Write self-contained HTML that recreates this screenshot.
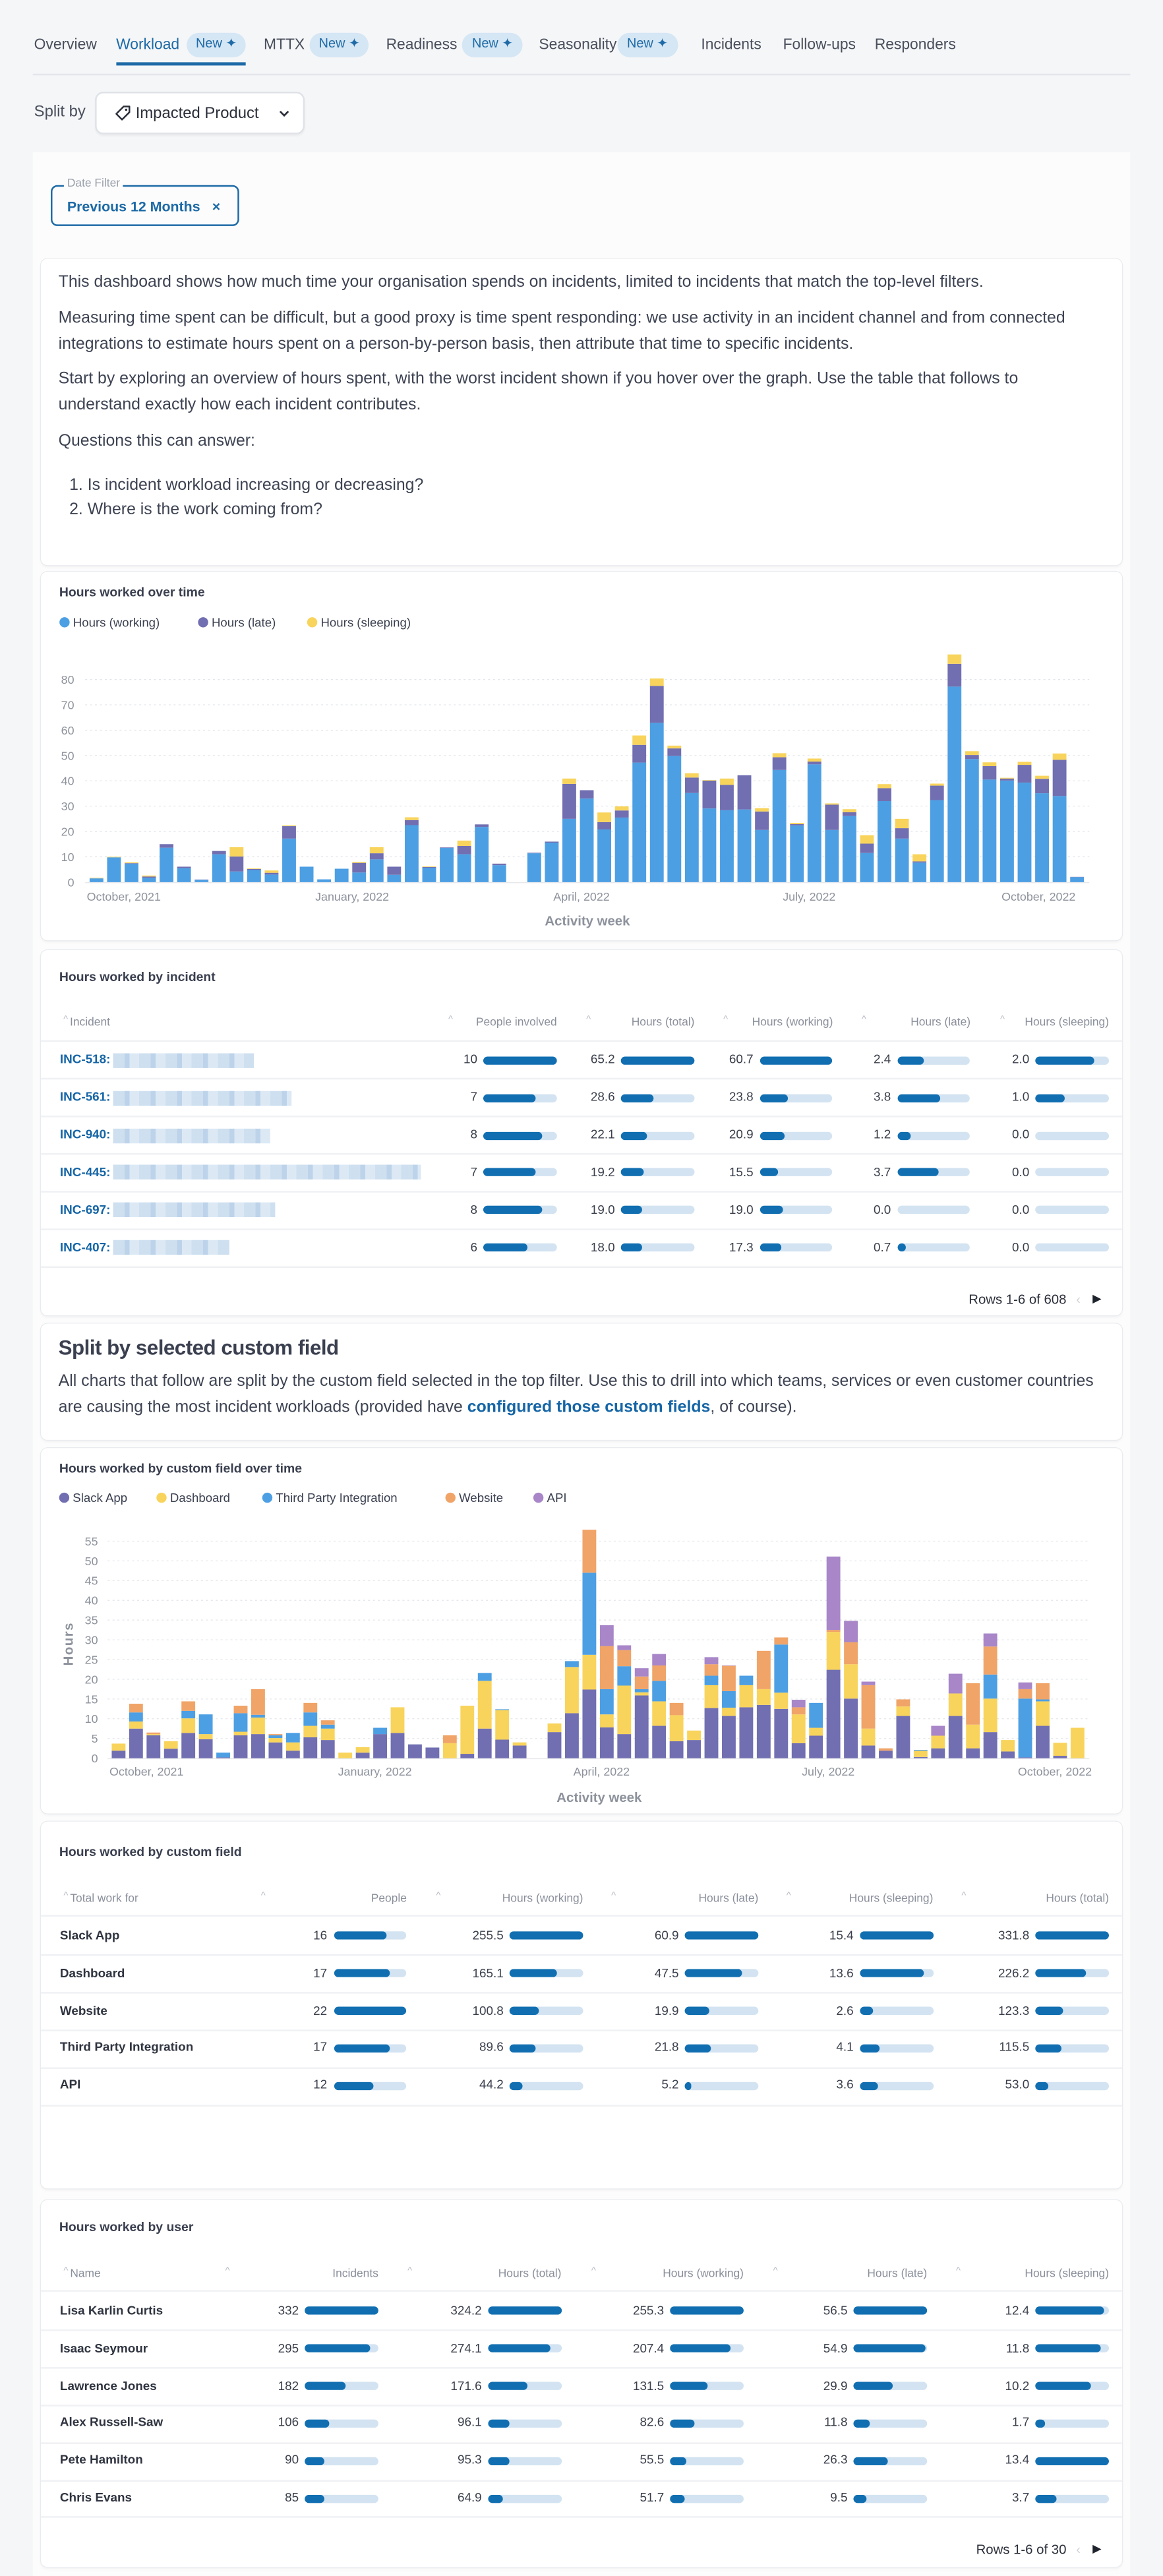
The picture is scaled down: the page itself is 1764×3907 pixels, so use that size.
<!DOCTYPE html>
<html><head><meta charset="utf-8">
<style>
html,body{margin:0;padding:0}
body{width:1764px;height:3897px;overflow:hidden;background:#f5f6f8;font-family:"Liberation Sans",sans-serif;color:#3b4050}
#root{position:absolute;left:0;top:0;width:710px;height:1569px;transform:scale(2.484507);transform-origin:0 0}
.a{position:absolute;white-space:nowrap;line-height:12px}
.card{position:absolute;left:25px;width:660px;background:#fff;border-radius:4px;box-shadow:0 0 0 0.5px #e9ecef,0 1px 2px rgba(0,0,0,0.05)}
.tab{font-size:9.2px;color:#4a4f5c;top:20.8px}
.badge{position:absolute;top:19.9px;height:14.7px;border-radius:7.5px;background:#d5e6f4;color:#1d6aa6;font-size:8px;line-height:14.7px;text-align:center}
.para{font-size:10px;color:#3d4352}
.ctitle{font-size:7.8px;font-weight:bold;color:#3b4050}
.th{font-size:7px;color:#8a8f9b}
.num{font-size:7.6px;color:#3a3f4b;text-align:right}
.lbl{font-size:7.6px;color:#2f3440;font-weight:bold}
.track{position:absolute;height:5px;border-radius:2.5px;background:#d3e3f1;overflow:hidden}
.fill{position:absolute;left:0;top:0;height:5px;border-radius:2.5px;background:#116fb1}
.sep{position:absolute;left:25px;width:660px;height:0.5px;background:#eff1f4}
.caret{font-size:6px;color:#b8bcc5}
</style></head>
<body>
<div id="root">

<div class="a tab" style="left:20.8px">Overview</div>
<div class="a tab" style="left:70.9px;color:#1d6aa6">Workload</div>
<div class="badge" style="left:113.9px;width:36.3px">New ✦</div>
<div style="position:absolute;left:70.9px;top:38.4px;width:79.4px;height:1.2px;background:#1d6aa6"></div>
<div class="a tab" style="left:161px">MTTX</div>
<div class="badge" style="left:189px;width:36.3px">New ✦</div>
<div class="a tab" style="left:235.7px">Readiness</div>
<div class="badge" style="left:282.4px;width:36.5px">New ✦</div>
<div class="a tab" style="left:329px">Seasonality</div>
<div class="badge" style="left:376.5px;width:37.5px">New ✦</div>
<div class="a tab" style="left:428px">Incidents</div>
<div class="a tab" style="left:478px">Follow-ups</div>
<div class="a tab" style="left:534px">Responders</div>
<div style="position:absolute;left:20px;top:44.8px;width:670px;height:0.5px;background:#e3e6ea"></div>

<div class="a" style="left:20.8px;top:63.4px;font-size:9.6px;color:#4a4f5c">Split by</div>
<div style="position:absolute;left:57.8px;top:56.4px;width:128.2px;height:25.5px;background:#fff;border:0.5px solid #dfe2e6;border-radius:5px;box-sizing:border-box;box-shadow:0 1px 1px rgba(0,0,0,0.04)">
  <svg style="position:absolute;left:11px;top:7px" width="10" height="10" viewBox="0 0 10 10"><path d="M5.5 1 L9 1 L9 4.5 L4.5 9 L1 5.5 Z" fill="none" stroke="#2b2f3a" stroke-width="1" stroke-linejoin="round"/><circle cx="7" cy="3" r="0.7" fill="#2b2f3a"/></svg>
  <div class="a" style="left:24px;top:6.5px;font-size:9.6px;color:#2b2f3a">Impacted Product</div>
  <svg style="position:absolute;left:111px;top:10px" width="7" height="5" viewBox="0 0 7 5"><path d="M1 1 L3.5 3.5 L6 1" fill="none" stroke="#2b2f3a" stroke-width="1.1"/></svg>
</div>

<div style="position:absolute;left:20px;top:92.6px;width:670px;height:1480px;background:#fcfcfd"></div>

<div style="position:absolute;left:31.2px;top:112.7px;width:114.8px;height:25.3px;border:1px solid #1d6aa6;border-radius:4px;box-sizing:border-box"></div>
<div class="a" style="left:39px;top:106.7px;font-size:7px;color:#9aa0aa;background:#fcfcfd;padding:0 2px">Date Filter</div>
<div class="a" style="left:41px;top:120px;font-size:8.6px;color:#1d6aa6;font-weight:bold">Previous 12 Months</div>
<div class="a" style="left:129.5px;top:120px;font-size:8.6px;color:#1d6aa6;font-weight:bold">×</div>

<div class="card" style="top:158.3px;height:187px"></div>
<div class="a para" style="left:35.7px;top:167px">This dashboard shows how much time your organisation spends on incidents, limited to incidents that match the top-level filters.</div>
<div class="a para" style="left:35.7px;top:188.5px">Measuring time spent can be difficult, but a good proxy is time spent responding: we use activity in an incident channel and from connected</div>
<div class="a para" style="left:35.7px;top:204.6px">integrations to estimate hours spent on a person-by-person basis, then attribute that time to specific incidents.</div>
<div class="a para" style="left:35.7px;top:226px">Start by exploring an overview of hours spent, with the worst incident shown if you hover over the graph. Use the table that follows to</div>
<div class="a para" style="left:35.7px;top:242.2px">understand exactly how each incident contributes.</div>
<div class="a para" style="left:35.7px;top:263.7px">Questions this can answer:</div>
<div class="a para" style="left:42.3px;top:291.2px">1. Is incident workload increasing or decreasing?</div>
<div class="a para" style="left:42.3px;top:306px">2. Where is the work coming from?</div>

<div class="card" style="top:349px;height:225px"></div>
<div class="a ctitle" style="left:36.2px;top:356px">Hours worked over time</div>
<svg id="chart1" style="position:absolute;left:0;top:350px" width="710" height="225"></svg>

<div class="card" style="top:579.6px;height:223.4px"></div>
<div class="a ctitle" style="left:36.2px;top:590.5px">Hours worked by incident</div>
<div id="t1"></div>

<div class="card" style="top:807.7px;height:71.8px"></div>
<div class="a" style="left:35.7px;top:815px;font-size:12.6px;font-weight:bold;color:#3b4050;line-height:16px;letter-spacing:-0.2px">Split by selected custom field</div>
<div class="a para" style="left:35.7px;top:838px">All charts that follow are split by the custom field selected in the top filter. Use this to drill into which teams, services or even customer countries</div>
<div class="a para" style="left:35.7px;top:854px">are causing the most incident workloads (provided have <span style="color:#1565a6;font-weight:bold">configured those custom fields</span>, of course).</div>

<div class="card" style="top:883.5px;height:223.5px"></div>
<div class="a ctitle" style="left:36.2px;top:890.9px">Hours worked by custom field over time</div>
<svg id="chart2" style="position:absolute;left:0;top:883px" width="710" height="225"></svg>

<div class="card" style="top:1112.4px;height:223.6px"></div>
<div class="a ctitle" style="left:36.2px;top:1125px">Hours worked by custom field</div>
<div id="t2"></div>

<div class="card" style="top:1342.5px;height:224px"></div>
<div class="a ctitle" style="left:36.2px;top:1354px">Hours worked by user</div>
<div id="t3"></div>

</div>

<script>
const c1Working=[1.5,9.8,7.3,1.7,13.6,5.5,0.9,11,4.2,4.8,3,17.2,6.1,1.1,5.3,3.8,9,2.9,22.5,5.7,13.5,11,21.8,6.7,0,11.4,15.6,25,33,20.8,25.5,47.2,62.9,49.8,35.2,29.1,28.4,28.7,20.6,44.3,22.4,46.5,20.6,26.1,11.5,32,17.2,7.7,32.4,77.2,48.6,40.5,40.1,39.3,35.1,34,2];
const c1Late=[0,0,0.2,0.5,1.4,0.6,0.1,1.3,5.9,0.4,0.7,4.9,0,0,0,3.8,2.4,3.2,2,0.3,0.2,3.3,1,0.6,0,0.2,0.4,13.8,3.3,2.9,2.8,7,14.6,3,6.1,11,10,13.5,7.3,5,0.5,1.1,10,1.5,3.7,5.1,4.1,0.5,5.7,9,1.6,5.3,0.8,7,5.7,14.3,0.1];
const c1Sleeping=[0.2,0.2,0.3,0.4,0,0,0,0,3.7,0.2,0.9,0.3,0,0,0,0.4,2.4,0,1.1,0.2,0,2.1,0,0,0,0,0,2.1,0,3.8,1.6,3.7,2.9,1.1,1.7,0.2,2.5,0,1.3,1.6,0.5,1.2,0.5,1.2,3.3,1.6,3.7,2.8,0.8,3.7,1.5,1.5,0.3,1.2,1.2,2.5,0];
const c1YTicks=[0,10,20,30,40,50,60,70,80];
const c1XTickLabels=["October, 2021","January, 2022","April, 2022","July, 2022","October, 2022"];
const c1XTickPos=[1.56,14.6,27.7,40.7,53.8];
const c1Series=["Hours (working)","Hours (late)","Hours (sleeping)"];

const c2Slack=[1.9,7.5,5.8,2.4,6.4,4.8,0.2,5.8,6.1,4,1.9,5.3,4.6,0,1.4,6.1,6.4,3.5,2.7,0,1.1,7.5,4.7,3.2,0,6.6,11.4,17.4,7.8,6.1,15.9,8.2,4.3,4.6,12.7,10.7,12.9,13.5,12.5,3.8,5.7,22.4,15.1,3.2,1.9,10.7,0.3,2.5,10.7,2.5,6.6,1.7,0.2,8.2,0.6,0];
const c2Dashboard=[1.8,1.8,0.3,1.9,3.7,1.3,0,0.9,4.2,1.1,2.1,2.9,2.9,1.4,1.4,0,6.5,0,0,3.8,12.2,12.1,7.5,0.8,0,2.2,11.7,8.8,3.3,12.3,0.8,6.2,6.6,2.4,5.8,2.1,5.6,4,4.1,7.3,2,9.6,8.7,4.3,0,2.4,1.6,3.2,5.7,6,8.5,2.9,0,6.2,3.3,7.7];
const c2Third=[0,2.3,0,0,1.9,5,1.2,4.7,0.7,0.7,2.4,3.4,1,0,0,1.6,0,0,0,0,0,2,0.2,0,0,0,1.5,20.8,6.4,4.9,0.8,5.2,0,0,2.4,4.2,2.4,0,12.2,0,6.3,0,0,0,0,0,0.2,0,0,0,6.1,0,14.9,0.5,0,0];
const c2Website=[0,2.2,0.4,0,2.4,0,0,1.9,6.5,0.3,0,2.4,1.1,0,0,0,0,0,0,2,0,0,0,0,0,0,0,10.9,10.9,4.1,3.2,3.9,3.1,0,2.9,6.4,0,9.7,1.8,1.8,0,0.5,5.6,11,0.6,1.8,0,0,0,10.5,7.1,0,2.4,4.1,0,0];
const c2Api=[0,0,0,0,0,0,0,0,0,0,0,0,0,0,0,0,0,0,0,0,0,0,0,0,0,0,0,0,5.3,1.2,2.1,2.9,0,0,1.8,0.1,0,0,0,1.9,0,18.6,5.4,0.9,0,0,0,2.5,5,0,3.3,0,1.7,0,0,0];
const c2YTicks=[0,5,10,15,20,25,30,35,40,45,50,55];
const c2XTickLabels=["October, 2021","January, 2022","April, 2022","July, 2022","October, 2022"];
const c2XTickPos=[1.6,14.7,27.7,40.7,53.7];
const c2Series=["Slack App","Dashboard","Third Party Integration","Website","API"];

const incIds=["INC-518:","INC-561:","INC-940:","INC-445:","INC-697:","INC-407:"];
const incNameBlur=[86,109,96,188,99,71];
const incPeople=[10,7,8,7,8,6];
const incTotal=[65.2,28.6,22.1,19.2,19.0,18.0];
const incWorking=[60.7,23.8,20.9,15.5,19.0,17.3];
const incLate=[2.4,3.8,1.2,3.7,0.0,0.7];
const incSleeping=[2.0,1.0,0.0,0.0,0.0,0.0];
const incMax=[10,65.2,60.7,6.5,2.5];

const cfNames=["Slack App","Dashboard","Website","Third Party Integration","API"];
const cfPeople=[16,17,22,17,12];
const cfWorking=[255.5,165.1,100.8,89.6,44.2];
const cfLate=[60.9,47.5,19.9,21.8,5.2];
const cfSleeping=[15.4,13.6,2.6,4.1,3.6];
const cfTotal=[331.8,226.2,123.3,115.5,53.0];
const cfMax=[22,255.5,60.9,15.4,331.8];

const userNames=["Lisa Karlin Curtis","Isaac Seymour","Lawrence Jones","Alex Russell-Saw","Pete Hamilton","Chris Evans"];
const userIncidents=[332,295,182,106,90,85];
const userTotal=[324.2,274.1,171.6,96.1,95.3,64.9];
const userWorking=[255.3,207.4,131.5,82.6,55.5,51.7];
const userLate=[56.5,54.9,29.9,11.8,26.3,9.5];
const userSleeping=[12.4,11.8,10.2,1.7,13.4,3.7];
const userMax=[332,324.2,255.3,56.5,13.4];

const NS="http://www.w3.org/2000/svg";
function sv(tag,attrs,parent){const e=document.createElementNS(NS,tag);for(const k in attrs)e.setAttribute(k,attrs[k]);parent.appendChild(e);return e;}

function drawChart(svg,cfg){
  const x=i=>cfg.x0+i*cfg.step;
  const y=v=>cfg.yBase-v*cfg.unit;
  cfg.series.forEach((name,k)=>{
    const g=sv('g',{},svg);
    
    
    sv('circle',{cx:cfg.legendX[k],cy:cfg.legendY,r:3.1,fill:cfg.colors[k]},g);
    const t=sv('text',{x:cfg.legendX[k]+5.2,y:cfg.legendY+2.6,'font-size':7.5,fill:'#3b4050','font-family':'Liberation Sans, sans-serif'},g);
    t.textContent=name;
  });
  cfg.yTicks.forEach(v=>{
    if(v>0){const l=sv('line',{x1:cfg.gridL,x2:cfg.gridR,y1:y(v),y2:y(v),stroke:'#e2e5ea','stroke-width':0.5,'stroke-dasharray':'1.2 1.8'},svg);
    
    }
    const t=sv('text',{x:cfg.yLabelR,y:y(v)+2.6,'font-size':7.2,fill:'#8d929c','text-anchor':'end','font-family':'Liberation Sans, sans-serif'},svg);
    t.textContent=v;
    
    
  });
  const ax=sv('line',{x1:cfg.gridL,x2:cfg.gridR,y1:cfg.yBase+0.3,y2:cfg.yBase+0.3,stroke:'#e6e8ec','stroke-width':0.6},svg);
  
  
  const n=cfg.data[0].length;
  for(let i=0;i<n;i++){
    let acc=0;
    cfg.data.forEach((arr,k)=>{
      const v=arr[i];
      if(v>0){
        const r=sv('rect',{x:x(i)-cfg.bw/2,y:y(acc+v),width:cfg.bw,height:v*cfg.unit,fill:cfg.colors[k]},svg);
        
        
      }
      acc+=v;
    });
  }
  cfg.xLabels.forEach((lab,j)=>{
    const t=sv('text',{x:x(cfg.xPos[j]),y:cfg.xLabelY,'font-size':7.2,fill:'#8d929c','text-anchor':'middle','font-family':'Liberation Sans, sans-serif'},svg);
    t.textContent=lab;
    
    
  });
  const at=sv('text',{x:cfg.axisTitleX,y:cfg.axisTitleY,'font-size':8.2,fill:'#8d929c','text-anchor':'middle','font-weight':'bold','font-family':'Liberation Sans, sans-serif'},svg);
  at.textContent='Activity week';
  
  
  if(cfg.yTitle){
    const yt=sv('text',{x:0,y:0,'font-size':8.2,fill:'#8d929c','text-anchor':'middle','font-weight':'bold','letter-spacing':'0.6','font-family':'Liberation Sans, sans-serif',transform:`translate(${cfg.yTitleX},${cfg.yTitleY}) rotate(-90)`},svg);
    yt.textContent=cfg.yTitle;
    
    
  }
}

drawChart(document.getElementById('chart1'),{
  data:[c1Working,c1Late,c1Sleeping],series:c1Series,
  colors:['#4d9fe3','#716fb1','#f8d45c'],
  x0:58.9,step:10.69,bw:8.4,yBase:188.5,unit:1.546,
  gridL:52,gridR:665,yLabelR:45.3,yTicks:c1YTicks,
  xLabels:c1XTickLabels,xPos:c1XTickPos,xLabelY:199.9,
  axisTitleX:358.6,axisTitleY:215,
  legendX:[39.4,124,190.6],legendY:29.9
});
drawChart(document.getElementById('chart2'),{
  data:[c2Slack,c2Dashboard,c2Third,c2Website,c2Api],series:c2Series,
  colors:['#716fb1','#f8d45c','#4d9fe3','#f0a468','#a886c8'],
  x0:72.4,step:10.644,bw:8.4,yBase:190.3,unit:2.409,
  gridL:65.7,gridR:665,yLabelR:59.8,yTicks:c2YTicks,
  xLabels:c2XTickLabels,xPos:c2XTickPos,xLabelY:201,
  axisTitleX:365.8,axisTitleY:217,
  yTitle:'Hours',yTitleX:44.5,yTitleY:120.5,
  legendX:[39.2,98.6,163.2,275,328.7],legendY:31.3
});

function el(parent,cls,style,text){const d=document.createElement('div');if(cls)d.className=cls;d.setAttribute('style',style);if(text!==undefined)d.textContent=text;parent.appendChild(d);return d;}

function buildTable(host,cfg){
  const root=document.getElementById('root');
  cfg.carets.forEach(cx=>{
    const c=el(root,'a caret','left:'+cx+'px;top:'+(cfg.headerY-8)+'px','^');
    
    
  });
  const h0=el(root,'a th','left:'+(cfg.carets[0]+4)+'px;top:'+(cfg.headerY-6)+'px',cfg.headers[0]);
  
  
  cfg.barEnds.forEach((be,j)=>{
    const h=el(root,'a th','left:'+(be-100)+'px;width:100px;text-align:right;top:'+(cfg.headerY-6)+'px',cfg.headers[j+1]);
    
    
  });
  const hs=el(root,'sep','top:'+(cfg.headerY+9.5)+'px');
  
  
  cfg.rowY.forEach((ry,i)=>{
    if(cfg.ids){
      const id=el(root,'a lbl','left:36.6px;top:'+(ry-6)+'px;color:#1565a6',cfg.ids[i]);
      
      
      const b=el(root,'','position:absolute;left:68.5px;top:'+(ry-4.5)+'px;height:9px;width:'+cfg.blur[i]+'px;background:repeating-linear-gradient(90deg,#c6daee 0 7px,#b1cbe6 7px 10px,#d6e5f3 10px 16px);opacity:0.85');
      
      
    } else {
      const l=el(root,'a lbl','left:36.6px;top:'+(ry-6)+'px',cfg.labels[i]);
      
      
    }
    cfg.cols.forEach((arr,j)=>{
      const be=cfg.barEnds[j], w=44.6, bl=be-w;
      const v=arr[i];
      const txt=cfg.intCols.includes(j)?String(v):v.toFixed(1);
      const nn=el(root,'a num','left:'+(bl-44)+'px;width:40px;top:'+(ry-6)+'px',txt);
      
      
      const tr=el(root,'track','left:'+bl+'px;top:'+(ry-2.5)+'px;width:'+w+'px');
      
      
      if(v>0){
        const fw=Math.max(2.6,w*Math.min(1,v/cfg.max[j]));
        const f=el(tr,'fill','width:'+fw+'px');
        
        
      }
    });
    const s=el(root,'sep','top:'+(ry+11.2)+'px');
    
    
  });
  if(cfg.footer){
    const ft=el(root,'a','left:'+(cfg.footerR-100)+'px;width:100px;text-align:right;top:'+(cfg.footerY-6)+'px;font-size:8.2px;color:#2b2f3a',cfg.footer);
    
    
    const pv=el(root,'a','left:'+(cfg.footerR+6)+'px;top:'+(cfg.footerY-6)+'px;font-size:8px;color:#d0d3d9','‹');
    
    
    const nx=el(root,'a','left:'+(cfg.footerR+16)+'px;top:'+(cfg.footerY-6)+'px;font-size:7px;color:#1f232c','▶');
    
    
  }
}

buildTable('t1',{
  ids:incIds,blur:incNameBlur,
  headers:["Incident","People involved","Hours (total)","Hours (working)","Hours (late)","Hours (sleeping)"],
  carets:[38.7,273.7,357.9,441.6,526,610.6],
  barEnds:[340,424,508.5,592.5,677],
  cols:[incPeople,incTotal,incWorking,incLate,incSleeping],intCols:[0],max:incMax,
  headerY:625.3,rowY:[647.2,670.2,693.1,715.9,738.9,761.9],
  footer:"Rows 1-6 of 608",footerR:651,footerY:793.8
});
buildTable('t2',{
  labels:cfNames,
  headers:["Total work for","People","Hours (working)","Hours (late)","Hours (sleeping)","Hours (total)"],
  carets:[38.8,159.3,266.2,373.2,480.1,587],
  barEnds:[248.3,356,463,569.7,677],
  cols:[cfPeople,cfWorking,cfLate,cfSleeping,cfTotal],intCols:[0],max:cfMax,
  headerY:1159.5,rowY:[1181.6,1204.6,1227.6,1250.3,1273.3]
});
buildTable('t3',{
  labels:userNames,
  headers:["Name","Incidents","Hours (total)","Hours (working)","Hours (late)","Hours (sleeping)"],
  carets:[38.8,137.5,248.8,361,472,583.6],
  barEnds:[231,342.7,454,566,677],
  cols:[userIncidents,userTotal,userWorking,userLate,userSleeping],intCols:[0],max:userMax,
  headerY:1388.7,rowY:[1410.9,1433.5,1456.5,1479.3,1502.3,1525.2],
  footer:"Rows 1-6 of 30",footerR:651,footerY:1556.9
});
</script>
</body></html>
